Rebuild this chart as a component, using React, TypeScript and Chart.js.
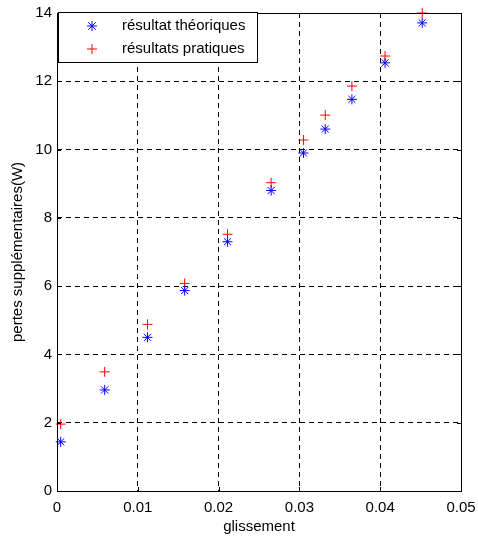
import React, { useEffect, useRef } from 'react';
import { Chart, registerables } from 'chart.js';

Chart.register(...registerables);

// glissement (slip) values
const slip = [0.00046, 0.0059, 0.0112, 0.0158, 0.0211, 0.0265, 0.0305, 0.0332, 0.0365, 0.0406, 0.0452];
// pertes supplémentaires (W)
const theoretical = [1.44, 2.96, 4.5, 5.87, 7.3, 8.8, 9.9, 10.6, 11.47, 12.54, 13.71];
const practical = [1.96, 3.49, 4.88, 6.08, 7.52, 9.03, 10.28, 11.01, 11.86, 12.74, 14.0];

const seriesLabels = ['résultat théoriques', 'résultats pratiques'];
const xTitle = 'glissement';
const yTitle = 'pertes supplémentaires(W)';
const xRange = [0, 0.05];
const yRange = [0, 14];
const xStep = 0.01;
const yStep = 2;

const FONT = '"Liberation Sans", Arial, Helvetica, sans-serif';

function drawStar(ctx: CanvasRenderingContext2D, x: number, y: number, r: number) {
  const d = r * 0.75;
  ctx.beginPath();
  ctx.moveTo(x - r, y); ctx.lineTo(x + r, y);
  ctx.moveTo(x, y - r); ctx.lineTo(x, y + r);
  ctx.moveTo(x - d, y - d); ctx.lineTo(x + d, y + d);
  ctx.moveTo(x - d, y + d); ctx.lineTo(x + d, y - d);
  ctx.stroke();
}
function drawPlus(ctx: CanvasRenderingContext2D, x: number, y: number, r: number) {
  ctx.beginPath();
  ctx.moveTo(x - r, y); ctx.lineTo(x + r, y);
  ctx.moveTo(x, y - r); ctx.lineTo(x, y + r);
  ctx.stroke();
}

const boxPlugin = {
  id: 'matlabBox',
  afterDraw(chart: any) {
    const { ctx, chartArea: a, scales } = chart;
    ctx.save();
    ctx.strokeStyle = '#000';
    ctx.lineWidth = 1;
    ctx.setLineDash([]);
    ctx.strokeRect(Math.round(a.left) + 0.5, Math.round(a.top) + 0.5, Math.round(a.right - a.left), Math.round(a.bottom - a.top));
    const tl = 4;
    ctx.beginPath();
    scales.x.ticks.forEach((t: any) => {
      const px = Math.round(scales.x.getPixelForValue(t.value)) + 0.5;
      ctx.moveTo(px, a.bottom); ctx.lineTo(px, a.bottom - tl);
      ctx.moveTo(px, a.top); ctx.lineTo(px, a.top + tl);
    });
    scales.y.ticks.forEach((t: any) => {
      const py = Math.round(scales.y.getPixelForValue(t.value)) + 0.5;
      ctx.moveTo(a.left, py); ctx.lineTo(a.left + tl, py);
      ctx.moveTo(a.right, py); ctx.lineTo(a.right - tl, py);
    });
    ctx.stroke();

    // legend
    const lx = a.left + 1, ly = a.top - 1, lw = 199, lh = 50;
    ctx.fillStyle = '#fff';
    ctx.fillRect(lx, ly, lw, lh);
    ctx.strokeRect(Math.round(lx) + 0.5, Math.round(ly) + 0.5, lw, lh);
    ctx.font = `15px ${FONT}`;
    ctx.fillStyle = '#000';
    ctx.textAlign = 'left';
    ctx.textBaseline = 'middle';
    const rows = [ly + 14, ly + 37];
    ctx.strokeStyle = '#0000ff';
    drawStar(ctx, lx + 34, rows[0], 5);
    ctx.strokeStyle = '#ff0000';
    drawPlus(ctx, lx + 34, rows[1], 5);
    ctx.fillText(seriesLabels[0], lx + 64, rows[0]);
    ctx.fillText(seriesLabels[1], lx + 64, rows[1]);
    ctx.restore();
  },
};

const fmt = (v: number) => String(Number(Number(v).toFixed(4)));

export default function App() {
  const ref = useRef<HTMLCanvasElement | null>(null);
  useEffect(() => {
    if (!ref.current) return;
    Chart.defaults.font.family = FONT;
    Chart.defaults.color = '#000';
    const gridColor = (max: number, min: number) => (c: any) =>
      c.tick && (Math.abs(c.tick.value - max) < 1e-9 || Math.abs(c.tick.value - min) < 1e-9) ? 'rgba(0,0,0,0)' : '#000';
    const chart = new Chart(ref.current, {
      type: 'scatter',
      data: {
        datasets: [
          {
            label: seriesLabels[0],
            data: slip.map((x, i) => ({ x, y: theoretical[i] })),
            pointStyle: 'star',
            pointRadius: 5,
            borderColor: '#0000ff',
            backgroundColor: '#0000ff',
            pointBorderWidth: 1,
            clip: false,
          },
          {
            label: seriesLabels[1],
            data: slip.map((x, i) => ({ x, y: practical[i] })),
            pointStyle: 'cross',
            pointRadius: 5,
            borderColor: '#ff0000',
            backgroundColor: '#ff0000',
            pointBorderWidth: 1,
            clip: false,
          },
        ],
      },
      options: {
        animation: false,
        responsive: false,
        layout: { padding: { top: 13, right: 17, left: 0, bottom: 0 } },
        plugins: { legend: { display: false }, tooltip: { enabled: false } },
        scales: {
          x: {
            type: 'linear',
            min: xRange[0],
            max: xRange[1],
            afterFit: (s: any) => { s.height = 47; s.paddingLeft = 0; s.paddingRight = 0; },
            ticks: { stepSize: xStep, callback: (v: any) => fmt(v), padding: 8, font: { size: 15 }, maxRotation: 0 },
            grid: { color: gridColor(xRange[1], xRange[0]), drawTicks: false, lineWidth: 1 },
            border: { display: false, dash: [5, 4] },
            title: { display: true, text: xTitle, font: { size: 15 }, padding: { top: 0, bottom: 2 } },
          },
          y: {
            type: 'linear',
            min: yRange[0],
            max: yRange[1],
            afterFit: (s: any) => { s.width = 57; s.paddingTop = 0; s.paddingBottom = 0; },
            ticks: { stepSize: yStep, callback: (v: any) => fmt(v), padding: 5, font: { size: 15 } },
            grid: { color: gridColor(yRange[1], yRange[0]), drawTicks: false, lineWidth: 1 },
            border: { display: false, dash: [5, 4] },
            title: { display: true, text: yTitle, font: { size: 15 }, padding: { top: 9, bottom: 0 } },
          },
        },
      },
      plugins: [boxPlugin],
    } as any);
    return () => chart.destroy();
  }, []);
  return (
    <div style={{ position: 'fixed', left: 0, top: 0, width: 478, height: 538, background: '#fff' }}>
      <canvas ref={ref} width={478} height={538} style={{ width: 478, height: 538, display: 'block' }} />
    </div>
  );
}
